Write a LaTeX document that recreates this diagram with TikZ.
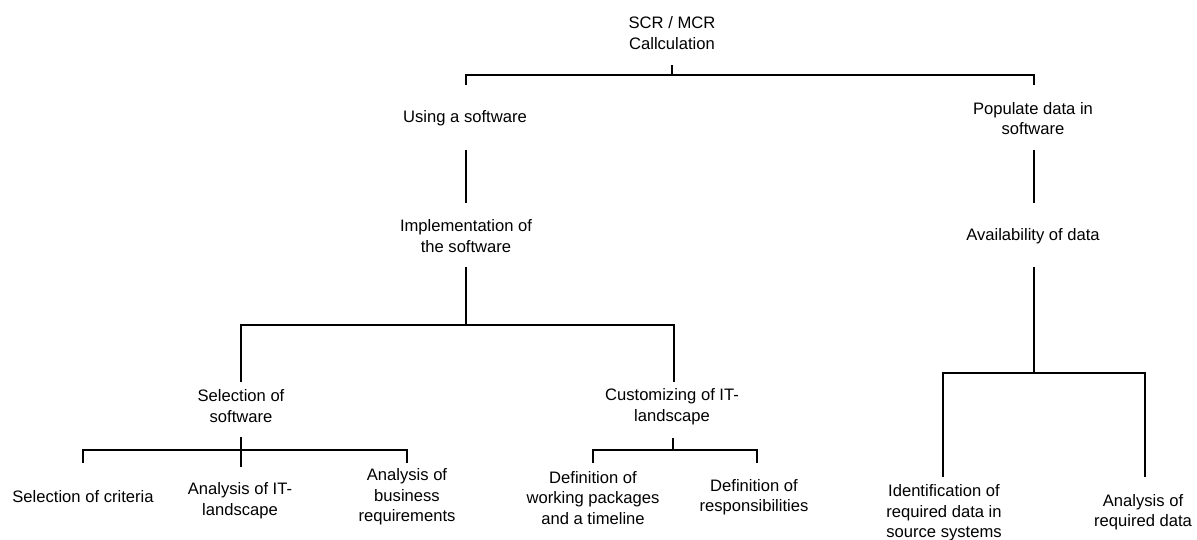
\documentclass[tikz,border=0pt]{standalone}
\usepackage{fontspec}
\setmainfont{Liberation Sans}
\begin{document}
\begin{tikzpicture}[x=1pt,y=-1pt,
  lbl/.style={align=center, font=\fontsize{16.6}{20.5}\selectfont, inner sep=0pt},
  conn/.style={line width=1.3pt, draw=black}]
\useasboundingbox (0,0) rectangle (1197,539);

% ---- labels ----
\node[lbl] (root) at (672,33) {SCR / MCR\\Callculation};
\node[lbl] (use)  at (465,118) {Using a software};
\node[lbl] (pop)  at (1033,118.5) {Populate data in\\software};
\node[lbl] (impl) at (466,236) {Implementation of\\the software};
\node[lbl] (avail) at (1033,236) {Availability of data};
\node[lbl] (sel)  at (241,406) {Selection of\\software};
\node[lbl] (cust) at (672,406.5) {Customizing of IT-\\landscape};
\node[lbl] (crit) at (83,497) {Selection of criteria};
\node[lbl] (anit) at (240,500.5) {Analysis of IT-\\landscape};
\node[lbl] (anbus) at (407,497) {Analysis of\\business\\requirements};
\node[lbl] (defwp) at (593,498) {Definition of\\working packages\\and a timeline};
\node[lbl] (defresp) at (754,497) {Definition of\\responsibilities};
\node[lbl] (ident) at (944,513) {Identification of\\required data in\\source systems};
\node[lbl] (anreq) at (1143,512) {Analysis of\\required data};

% ---- junction points ----
\coordinate (rootS) at (672,65);
\coordinate (rootJ) at (672,75);
\coordinate (useN)  at (466,85);
\coordinate (popN)  at (1034,85);
\coordinate (useS)  at (466,150);
\coordinate (implN) at (466,203);
\coordinate (popS)  at (1034,150);
\coordinate (availN) at (1034,203);
\coordinate (implS) at (466,267);
\coordinate (implJ) at (466,325);
\coordinate (selN)  at (241,382);
\coordinate (custN) at (674,382);
\coordinate (availS) at (1034,267);
\coordinate (availJ) at (1034,373);
\coordinate (identN) at (943,477);
\coordinate (anreqN) at (1145,477);
\coordinate (selS)  at (241,437);
\coordinate (selE)  at (241,467);
\coordinate (selJ)  at (241,450);
\coordinate (critN) at (83,463);
\coordinate (anbusN) at (407,463);
\coordinate (custS) at (673,438);
\coordinate (custJ) at (673,450);
\coordinate (defwpN) at (593,463);
\coordinate (defrespN) at (757,463);

% ---- connectors ----
\draw[conn] (rootS) -- (rootJ);
\draw[conn] (useN) |- (rootJ) -| (popN);
\draw[conn] (useS) -- (implN);
\draw[conn] (popS) -- (availN);
\draw[conn] (implS) -- (implJ);
\draw[conn] (selN) |- (implJ) -| (custN);
\draw[conn] (availS) -- (availJ);
\draw[conn] (identN) |- (availJ) -| (anreqN);
\draw[conn] (selS) -- (selE);
\draw[conn] (critN) |- (selJ) -| (anbusN);
\draw[conn] (custS) -- (custJ);
\draw[conn] (defwpN) |- (custJ) -| (defrespN);
\end{tikzpicture}
\end{document}
